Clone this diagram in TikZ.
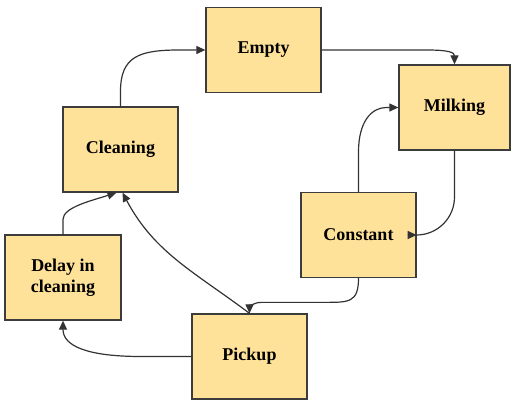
\documentclass[tikz,border=0pt]{standalone}
\usepackage{fontspec}
\setmainfont{Liberation Serif}
\usetikzlibrary{arrows.meta,calc}
\definecolor{boxfill}{HTML}{FFE299}
\definecolor{boxline}{HTML}{3C3C3C}
\definecolor{wire}{HTML}{333333}
\tikzset{
  statebox/.style={draw=boxline, fill=boxfill, line width=1.3pt,
    minimum width=115pt, minimum height=85pt, inner sep=0pt, align=center,
    font=\bfseries\fontsize{18}{21}\selectfont},
  flow/.style={draw=wire, line width=1.2pt,
    -{Triangle[length=9pt,width=8pt]}},
}
\begin{document}
\begin{tikzpicture}[x=1pt,y=1pt]
\useasboundingbox (0,-399) rectangle (511,0);

\node[statebox] (em) at (263.5,-50) {Empty};
\node[statebox, minimum width=111pt] (mi) at (454.5,-107.5) {Milking};
\node[statebox] (cl) at (120.5,-149.5) {Cleaning};
\node[statebox, minimum width=116pt] (de) at (63,-277.5) {Delay in\\cleaning};
\node[statebox] (co) at (358.5,-235) {Constant};
\node[statebox] (pi) at (249.5,-356.5) {Pickup};

% Cleaning -> Empty
\draw[flow] (cl.north) -- ++(0,15)
  .. controls +(0,35) and +(-40,0) .. ($(em.west)+(-26,0)$) -- (em.west);
% Empty -> Milking
\draw[flow] (em.east) -- ($(em.east -| mi.north)+(-28,0)$)
  .. controls +(22,0) and +(0,12) .. (mi.north);
% Milking -> Constant
\draw[flow, rounded corners=38pt] (mi.south) |- (co.east);
% Constant -> Milking
\draw[flow] (co.north) -- ++(0,40)
  .. controls +(0,30) and +(-15,0) .. ($(mi.west)+(-12,0)$) -- (mi.west);
% Constant -> Pickup
\draw[flow] (co.south)
  .. controls +(0,-25) and +(25,0) .. ($(co.south |- pi.north)+(-35,11)$)
  -- ($(pi.north)+(12,11)$)
  .. controls +(-8,0) and +(0,6) .. (pi.north);
% Pickup -> Cleaning
\draw[flow] (pi.north) to[out=143,in=-62] ([xshift=2pt]cl.south);
% Delay in cleaning -> Cleaning
\draw[flow] (de.north) -- ++(0,15)
  .. controls +(0,12) and +(-25,-8) .. ([xshift=-4pt]cl.south);
% Pickup -> Delay in cleaning
\draw[flow] (pi.west) -- ++(-50,0)
  .. controls +(-55,0) and +(0,-25) .. (de.south);
\end{tikzpicture}
\end{document}
